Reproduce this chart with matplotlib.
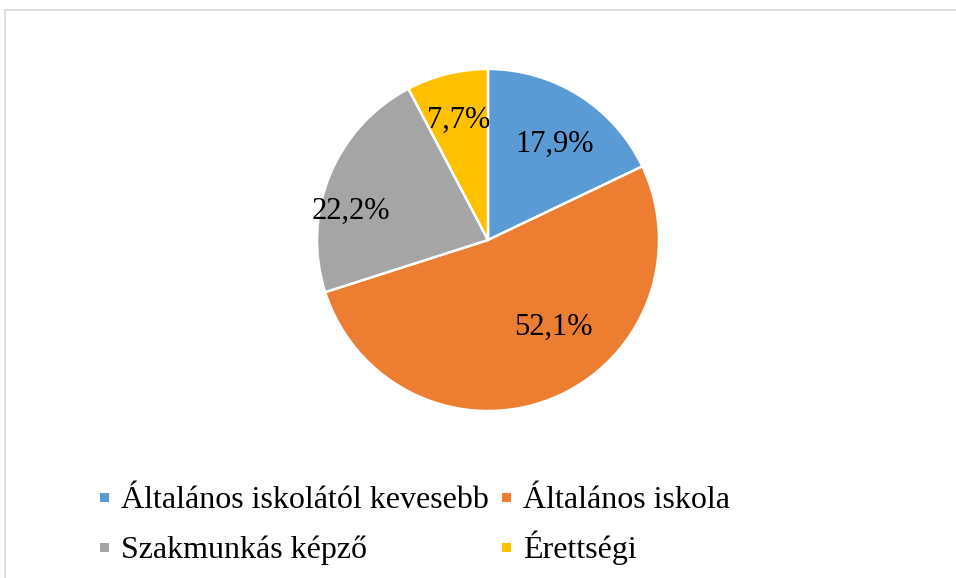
import matplotlib.pyplot as plt
from matplotlib.patches import Rectangle
from matplotlib.lines import Line2D

categories = ['Általános iskolától kevesebb', 'Általános iskola',
              'Szakmunkás képző', 'Érettségi']
values = [17.9, 52.1, 22.2, 7.7]
labels = ['17,9%', '52,1%', '22,2%', '7,7%']
colors = ['#5B9BD5', '#ED7D31', '#A5A5A5', '#FFC000']

# label spots, in units of the pie radius (Excel "best fit" placement)
label_pos = [(0.39, 0.56), (0.38, -0.51), (-0.80, 0.17), (-0.17, 0.70)]

plt.rcParams['font.family'] = ['Liberation Serif', 'DejaVu Serif']

W, H = 956, 578
fig = plt.figure(figsize=(W / 100, H / 100), dpi=100)

cx, cy, r = 488, 240, 171
ax = fig.add_axes([(cx - r) / W, (H - cy - r) / H, 2 * r / W, 2 * r / H])
wedges, _ = ax.pie(values, colors=colors, startangle=90, counterclock=False,
                   wedgeprops=dict(edgecolor='white', linewidth=1.8))
for (x, y), t in zip(label_pos, labels):
    ax.text(x, y, t, ha='center', va='center', fontsize=22)
ax.set_xlim(-1.0, 1.0)
ax.set_ylim(-1.0, 1.0)
ax.set_aspect('equal')
ax.axis('off')

# chart area border (cropped on right and bottom)
fig.add_artist(Line2D([4.5 / W, 4.5 / W], [0, 1 - 9.5 / H],
                      color='#D9D9D9', lw=1.2))
fig.add_artist(Line2D([4.5 / W, 1], [1 - 9.5 / H, 1 - 9.5 / H],
                      color='#D9D9D9', lw=1.2))

# legend, two rows filled left to right like Excel, on a shared baseline
col_x = [100, 502]      # left edge of the colour square, px
row_base = [508, 558]   # text baseline, px
sq = 9
for i, (name, c) in enumerate(zip(categories, colors)):
    x0 = col_x[i % 2]
    yb = row_base[i // 2]
    fig.add_artist(Rectangle((x0 / W, 1 - (yb - 6) / H), sq / W, sq / H,
                             facecolor=c, edgecolor='none',
                             transform=fig.transFigure))
    fig.text((x0 + 21) / W, 1 - yb / H, name, fontsize=23,
             ha='left', va='baseline')

fig.savefig('out.png', dpi=100)
